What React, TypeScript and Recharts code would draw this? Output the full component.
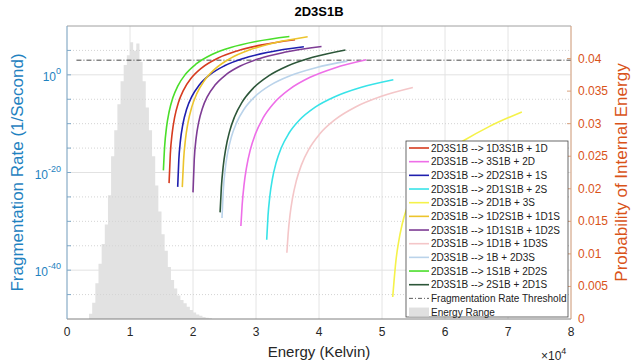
import React from 'react';
import {
  ComposedChart,
  Line,
  Area,
  XAxis,
  YAxis,
  CartesianGrid,
  ReferenceLine,
} from 'recharts';

// axis ticks
const energyTicks = [0, 10000, 20000, 30000, 40000, 50000, 60000, 70000, 80000];
const rateTickExponents = [-50, -45, -40, -35, -30, -25, -20, -15, -10, -5, 0, 5, 10];
const probTicks = [0, 0.005, 0.01, 0.015, 0.02, 0.025, 0.03, 0.035, 0.04];

// internal energy histogram (bin start in K, probability)
const histEnergy = [
  3500, 4000, 4500, 5000, 5500, 6000, 6500, 7000, 7500, 8000, 8500, 9000, 9500, 10000,
  10500, 11000, 11500, 12000, 12500, 13000, 13500, 14000, 14500, 15000, 15500, 16000,
  16500, 17000, 17500, 18000, 18500, 19000, 19500, 20000, 20500, 21000, 21500, 22000,
  22500, 23000,
];
const histProb = [
  0.0008, 0.0025, 0.0055, 0.0085, 0.0115, 0.0145, 0.019, 0.025, 0.029, 0.033, 0.0365,
  0.039, 0.0405, 0.0425, 0.0412, 0.0423, 0.0395, 0.0365, 0.0325, 0.029, 0.025, 0.0205,
  0.0165, 0.013, 0.0105, 0.008, 0.006, 0.0047, 0.0036, 0.0029, 0.0024, 0.0019, 0.0014,
  0.001, 0.0007, 0.0005, 0.0003, 0.0002, 0.0001, 0,
];

// fragmentation channels: energy (K) and log10 of rate (1/s)
const eRed = [16200, 16400, 16700, 17100, 17700, 18500, 19700, 21400, 24000, 27000, 31000, 36200];
const lRed = [-22.18, -16.2, -11.89, -8.62, -5.63, -3.12, -0.71, 1.44, 3.45, 4.9, 6.14, 7.17];

const eMagenta = [27600, 27800, 28100, 28500, 29100, 29900, 31100, 32800, 35300, 38500, 42500, 47500];
const lMagenta = [-30.95, -26.64, -22.53, -18.93, -15.34, -12.12, -8.88, -5.86, -2.97, -0.56, 1.42, 3.09];

const eBlue = [17570, 17750, 18000, 18400, 19000, 19800, 21000, 22700, 25000, 28000, 32000, 37600];
const lBlue = [-22.95, -17.38, -13.54, -10.07, -7.0, -4.47, -2.08, 0.04, 1.85, 3.36, 4.64, 5.75];

const eCyan = [31700, 31900, 32200, 32600, 33200, 34000, 35200, 36900, 39400, 42600, 46600, 51800];
const lCyan = [-33.76, -28.98, -24.81, -21.33, -17.95, -14.98, -12.02, -9.26, -6.62, -4.43, -2.59, -0.99];

const eYellow = [51700, 51900, 52200, 52600, 53200, 54000, 55500, 57500, 60000, 63200, 67000, 72200];
const lYellow = [-45.5, -42.4, -38.2, -34.5, -30.6, -27.1, -22.8, -19.1, -16.0, -13.3, -10.6, -7.6];

const eGold = [18300, 18500, 18800, 19200, 19800, 20600, 21800, 23500, 26000, 29000, 33000, 38200];
const lGold = [-22.99, -17.57, -13.25, -9.83, -6.61, -3.86, -1.2, 1.21, 3.43, 5.12, 6.58, 7.8];

const ePurple = [20000, 20200, 20500, 20900, 21500, 22300, 23500, 25200, 27500, 30500, 34500, 40400];
const lPurple = [-24.07, -17.29, -12.92, -9.72, -6.83, -4.41, -2.09, 0.0, 1.8, 3.31, 4.61, 5.81];

const ePink = [34900, 35100, 35400, 35800, 36400, 37200, 38400, 40100, 42600, 45800, 49800, 54900];
const lPink = [-36.44, -32.56, -28.69, -25.22, -21.7, -18.49, -15.22, -12.12, -9.12, -6.58, -4.45, -2.6];

const eLightBlue = [24600, 24800, 25100, 25500, 26100, 26900, 28100, 29800, 32300, 35500, 39500, 44500];
const lLightBlue = [-29.3, -23.83, -19.45, -15.97, -12.68, -9.84, -7.05, -4.5, -2.1, -0.14, 1.47, 2.8];

const eGreen = [15300, 15500, 15800, 16200, 16800, 17600, 18800, 20500, 23000, 26000, 30000, 35300];
const lGreen = [-19.56, -14.62, -10.71, -7.61, -4.71, -2.25, 0.11, 2.22, 4.15, 5.59, 6.82, 7.85];

const eDarkGreen = [24300, 24500, 24800, 25200, 25800, 26600, 27800, 29500, 32000, 35000, 39000, 44200];
const lDarkGreen = [-28.16, -23.08, -18.7, -15.09, -11.62, -8.58, -5.58, -2.82, -0.23, 1.8, 3.58, 5.1];

// threshold
const thresholdEnergy = [1500, 80000];
const thresholdLogRate = 3;

const channels = [
  { name: '2D3S1B --> 1D3S1B + 1D', color: '#d63b1f', energy: eRed, logRate: lRed },
  { name: '2D3S1B --> 3S1B + 2D', color: '#ee6ee8', energy: eMagenta, logRate: lMagenta },
  { name: '2D3S1B --> 2D2S1B + 1S', color: '#1f1fae', energy: eBlue, logRate: lBlue },
  { name: '2D3S1B --> 2D1S1B + 2S', color: '#38e3e8', energy: eCyan, logRate: lCyan },
  { name: '2D3S1B --> 2D1B + 3S', color: '#f5f24a', energy: eYellow, logRate: lYellow },
  { name: '2D3S1B --> 1D2S1B + 1D1S', color: '#ecc42c', energy: eGold, logRate: lGold },
  { name: '2D3S1B --> 1D1S1B + 1D2S', color: '#7e3c94', energy: ePurple, logRate: lPurple },
  { name: '2D3S1B --> 1D1B + 1D3S', color: '#f4c6c8', energy: ePink, logRate: lPink },
  { name: '2D3S1B --> 1B + 2D3S', color: '#bad3ea', energy: eLightBlue, logRate: lLightBlue },
  { name: '2D3S1B --> 1S1B + 2D2S', color: '#4ade2a', energy: eGreen, logRate: lGreen },
  { name: '2D3S1B --> 2S1B + 2D1S', color: '#2c5639', energy: eDarkGreen, logRate: lDarkGreen },
];

const W = 633;
const H = 364;
const PLOT_LEFT = 67;
const PLOT_RIGHT = 571;
const PLOT_TOP = 26;
const PLOT_BOTTOM = 319;
const FONT = '"Liberation Sans", Arial, sans-serif';
const LEFT_COLOR = '#1f82c0';
const RIGHT_COLOR = '#d95319';

const histData = histEnergy.map((e, i) => ({ E: e, p: histProb[i] }));
const thresholdData = thresholdEnergy.map((e) => ({ E: e, rate: Math.pow(10, thresholdLogRate) }));

function RateTick(props: any) {
  const { x, y, payload } = props;
  const exp = Math.round(Math.log10(payload.value));
  return (
    <g>
      {exp > -50 && exp < 10 && (
        <line x1={PLOT_LEFT} x2={PLOT_LEFT + 4} y1={y} y2={y} stroke="#7fa9c9" />
      )}
      {exp % 20 === 0 && (
        <text x={x} y={y} textAnchor="end" fill={LEFT_COLOR} fontSize={12} fontFamily={FONT}>
          <tspan dy={6}>10</tspan>
          <tspan dy={-7} fontSize={9}>
            {exp}
          </tspan>
        </text>
      )}
    </g>
  );
}

function ProbTick(props: any) {
  const { x, y, payload } = props;
  return (
    <g>
      {payload.value > 0 && (
        <line x1={PLOT_RIGHT - 4} x2={PLOT_RIGHT} y1={y} y2={y} stroke="#d9a27e" />
      )}
      <text x={x} y={y} dy={4} textAnchor="start" fill={RIGHT_COLOR} fontSize={12} fontFamily={FONT}>
        {String(payload.value)}
      </text>
    </g>
  );
}

function Legend() {
  const x0 = 406;
  const y0 = 141;
  const rowH = 13.67;
  const rows = [
    ...channels.map((c) => ({ name: c.name, kind: 'line', color: c.color })),
    { name: 'Fragmentation Rate Threshold', kind: 'dash', color: '#333' },
    { name: 'Energy Range', kind: 'box', color: '#e0e0e0' },
  ];
  return (
    <g>
      <rect x={x0} y={y0} width={162} height={176} fill="#fff" stroke="#444" strokeWidth={0.8} />
      {rows.map((r, i) => {
        const cy = y0 + 7 + i * rowH;
        return (
          <g key={r.name}>
            {r.kind === 'line' && (
              <line x1={x0 + 3} x2={x0 + 23} y1={cy} y2={cy} stroke={r.color} strokeWidth={1.6} />
            )}
            {r.kind === 'dash' && (
              <line
                x1={x0 + 3}
                x2={x0 + 23}
                y1={cy}
                y2={cy}
                stroke={r.color}
                strokeWidth={0.8}
                strokeDasharray="4 2 1 2"
              />
            )}
            {r.kind === 'box' && (
              <rect x={x0 + 3} y={cy - 4.5} width={20} height={9} fill={r.color} />
            )}
            <text
              x={x0 + 25}
              y={cy}
              dy={3.5}
              fontSize={10}
              fill="#222"
              fontFamily={FONT}
            >
              {r.name}
            </text>
          </g>
        );
      })}
    </g>
  );
}

export default function App() {
  const gridExps = rateTickExponents.filter((e) => e > -50 && e < 10);
  return (
    <div style={{ position: 'absolute', left: 0, top: 0, width: W, height: H, background: '#fff' }}>
      <ComposedChart
        width={W}
        height={H}
        margin={{ top: PLOT_TOP, right: 0, bottom: 0, left: 0 }}
        style={{ fontFamily: FONT }}
      >
        <CartesianGrid yAxisId="left" horizontal={false} stroke="#e4e4e4" />
        {gridExps.map((e) => (
          <ReferenceLine
            key={e}
            yAxisId="left"
            y={Math.pow(10, e)}
            stroke={e % 20 === 0 ? '#e2e2e2' : '#d4d4d4'}
            strokeDasharray={e % 20 === 0 ? undefined : '1 2'}
          />
        ))}
        <XAxis
          dataKey="E"
          type="number"
          domain={[0, 80000]}
          ticks={energyTicks}
          allowDataOverflow
          height={45}
          tickFormatter={(v: number) => String(v / 10000)}
          tick={{ fontSize: 12, fill: '#262626', fontFamily: FONT }}
          tickLine={false}
          axisLine={{ stroke: '#808080' }}
        />
        <YAxis
          yAxisId="left"
          type="number"
          scale="log"
          domain={[1e-50, 1e10]}
          ticks={rateTickExponents.map((e) => Math.pow(10, e))}
          allowDataOverflow
          width={PLOT_LEFT}
          tick={<RateTick />}
          tickLine={false}
          tickSize={4}
          tickMargin={2}
          axisLine={{ stroke: '#7fa9c9' }}
        />
        <YAxis
          yAxisId="right"
          orientation="right"
          type="number"
          domain={[0, 0.045]}
          ticks={probTicks}
          allowDataOverflow
          width={W - PLOT_RIGHT}
          tick={<ProbTick />}
          tickLine={false}
          tickSize={4}
          tickMargin={3}
          axisLine={{ stroke: '#d9a27e' }}
        />
        <Area
          yAxisId="right"
          data={histData}
          dataKey="p"
          type="stepAfter"
          fill="#e2e2e2"
          fillOpacity={1}
          stroke="none"
          isAnimationActive={false}
        />
        <ReferenceLine yAxisId="left" y={1e10} stroke="#a0a0a0" />
        <Line
          yAxisId="left"
          data={thresholdData}
          dataKey="rate"
          type="linear"
          stroke="#333"
          strokeWidth={0.9}
          strokeDasharray="5 2 1 2"
          dot={false}
          isAnimationActive={false}
        />
        {channels.map((c) => (
          <Line
            key={c.name}
            yAxisId="left"
            data={c.energy.map((e, i) => ({ E: e, rate: Math.pow(10, c.logRate[i]) }))}
            dataKey="rate"
            type="monotone"
            stroke={c.color}
            strokeWidth={1.6}
            dot={false}
            isAnimationActive={false}
          />
        ))}
      </ComposedChart>
      <svg
        width={W}
        height={H}
        style={{ position: 'absolute', left: 0, top: 0, pointerEvents: 'none' }}
      >
        <text x={319} y={16} textAnchor="middle" fontSize={13} fontWeight="bold" fill="#000" fontFamily={FONT}>
          2D3S1B
        </text>
        <text x={319} y={357} textAnchor="middle" fontSize={15} fill="#262626" fontFamily={FONT}>
          Energy (Kelvin)
        </text>
        <text x={541} y={360} fontSize={12} fill="#262626" fontFamily={FONT}>
          ×10
          <tspan dy={-6} fontSize={9}>
            4
          </tspan>
        </text>
        <text
          transform={`translate(17,${(PLOT_TOP + PLOT_BOTTOM) / 2}) rotate(-90)`}
          textAnchor="middle"
          dominantBaseline="central"
          fontSize={17}
          fill={LEFT_COLOR}
          fontFamily={FONT}
        >
          Fragmentation Rate (1/Second)
        </text>
        <text
          transform={`translate(621,${(PLOT_TOP + PLOT_BOTTOM) / 2}) rotate(-90)`}
          textAnchor="middle"
          dominantBaseline="central"
          fontSize={17}
          fill={RIGHT_COLOR}
          fontFamily={FONT}
        >
          Probability of Internal Energy
        </text>
        <Legend />
      </svg>
    </div>
  );
}
